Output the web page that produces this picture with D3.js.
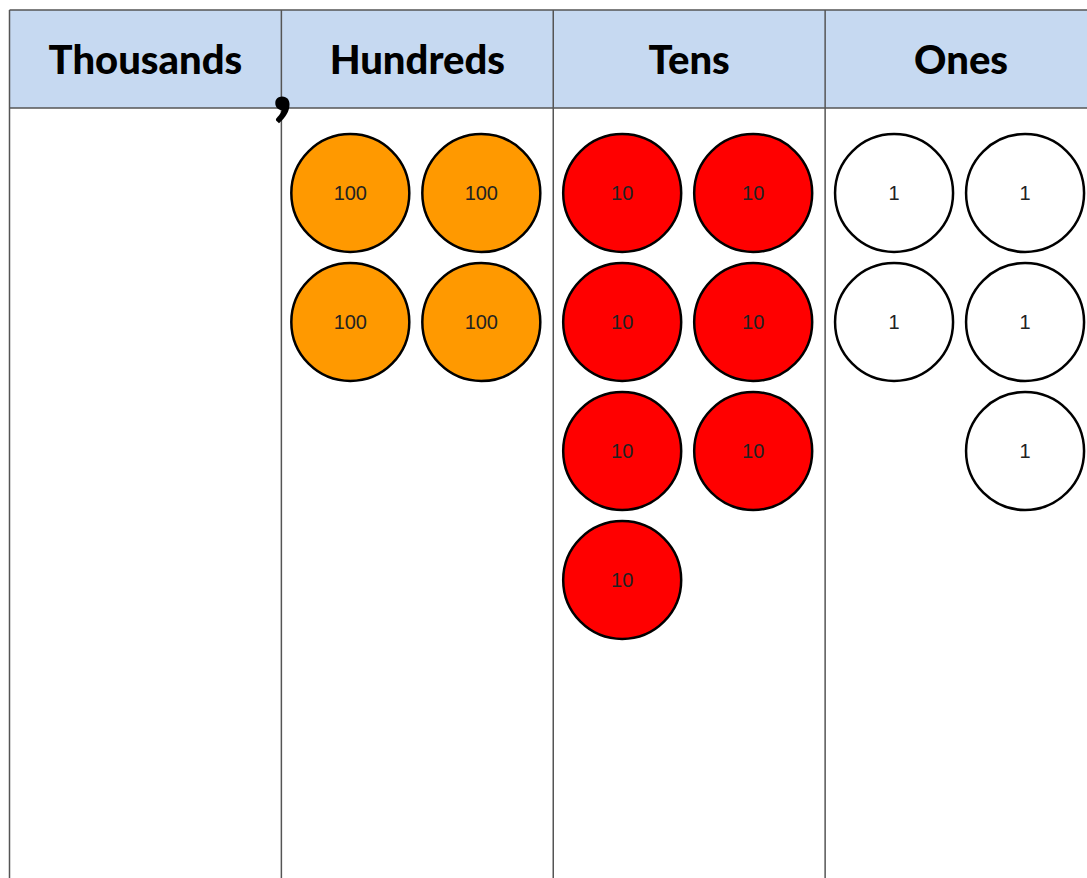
<!DOCTYPE html>
<meta charset=utf-8>
<script src="https://cdn.jsdelivr.net/npm/d3@7/dist/d3.min.js"></script>
<style>
html, body { margin: 0; padding: 0; background: white; overflow: hidden }
</style>
<body>
<svg width=1087 height=878 id=chart></svg>
<script>
// place value columns
const places = ["Thousands", "Hundreds", "Tens", "Ones"];
const values = [1000, 100, 10, 1];
// counters in each column, as [slot (0 left, 1 right), row]
const counters = {
	Thousands: [],
	Hundreds: [[0,0],[1,0],[0,1],[1,1]],
	Tens: [[0,0],[1,0],[0,1],[1,1],[0,2],[1,2],[0,3]],
	Ones: [[0,0],[1,0],[0,1],[1,1],[1,2]]
};
const fills = {Thousands: "#ffff00", Hundreds: "#ff9900", Tens: "#ff0000", Ones: "#ffffff"};

const svg = d3.select("#chart");
const W = 1087, H = 878;
const headTop = 10, headH = 98;

const x = d3.scaleBand().domain(places).range([9.5, 1097]);
const slot = d3.scaleLinear().domain([0, 1]).range([-67, 64]);
const y = d3.scaleLinear().domain([0, 1]).range([193, 322]);
const r = 59;

// header band
svg.append("rect")
	.attr("x", x.range()[0]).attr("y", headTop)
	.attr("width", W).attr("height", headH)
	.attr("fill", "#c6d9f1");

// header labels
svg.append("g")
	.selectAll("text")
	.data(places)
	.join("text")
		.attr("x", d => x(d) + x.bandwidth() / 2)
		.attr("y", headTop + headH / 2 + 15)
		.attr("text-anchor", "middle")
		.attr("font-family", "Lato, sans-serif")
		.attr("font-weight", "900")
		.attr("font-size", "40px")
		.attr("fill", "#000")
		.text(d => d);

// grid lines
const grid = svg.append("g").attr("stroke", "#555").attr("stroke-width", 1.5);
grid.append("line").attr("x1", x.range()[0]).attr("x2", W).attr("y1", headTop).attr("y2", headTop);
grid.append("line").attr("x1", x.range()[0]).attr("x2", W).attr("y1", headTop + headH).attr("y2", headTop + headH);
grid.selectAll(".v")
	.data(places)
	.join("line")
		.attr("class", "v")
		.attr("x1", d => x(d)).attr("x2", d => x(d))
		.attr("y1", headTop).attr("y2", H);

// comma between thousands and hundreds
svg.append("text")
	.attr("x", x("Hundreds") + 1)
	.attr("y", headTop + headH + 2)
	.attr("text-anchor", "middle")
	.attr("font-family", "Lato, sans-serif")
	.attr("font-weight", "900")
	.attr("font-size", "90px")
	.attr("fill", "#000")
	.text(",");

// counters
const flat = places.flatMap((p, i) => counters[p].map(([s, row]) => ({place: p, value: values[i], s, row})));
const g = svg.append("g")
	.selectAll("g")
	.data(flat)
	.join("g")
		.attr("transform", d => `translate(${x(d.place) + x.bandwidth() / 2 + slot(d.s)},${y(d.row)})`);
g.append("circle")
	.attr("r", r)
	.attr("fill", d => fills[d.place])
	.attr("stroke", "#000")
	.attr("stroke-width", 2.5);
g.append("text")
	.attr("text-anchor", "middle")
	.attr("dy", "0.35em")
	.attr("font-family", "'Liberation Sans', Arial, sans-serif")
	.attr("font-size", "20px")
	.attr("fill", "#222")
	.text(d => d.value);
</script>
</body>
